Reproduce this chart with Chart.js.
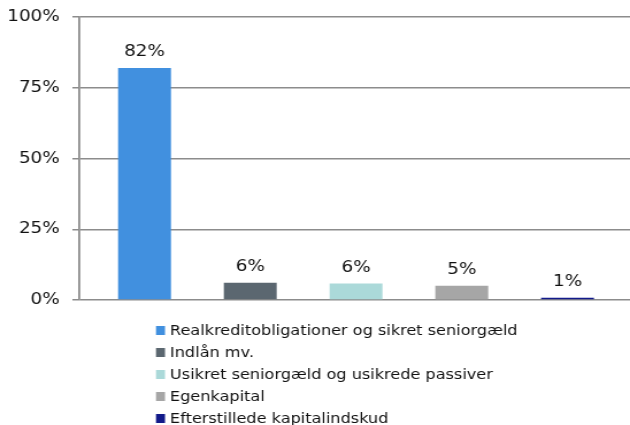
<!DOCTYPE html>
<html><head><meta charset="utf-8">
<script src="https://cdn.jsdelivr.net/npm/chart.js@4.4.1/dist/chart.umd.min.js"></script>
<style>html,body{margin:0;padding:0;background:#fff;}#wrap{width:630px;height:425px;position:relative;overflow:hidden}
#c{transform-origin:0 0;}</style>
</head><body><div id="wrap"><canvas id="c" width="548" height="425"></canvas></div>
<script>
const categories = ["Realkreditobligationer og sikret seniorgæld", "Indlån mv.", "Usikret seniorgæld og usikrede passiver", "Egenkapital", "Efterstillede kapitalindskud"];
const values = [82.0, 6.1, 5.8, 5.0, 0.8];
const yTicks = [0, 25, 50, 75, 100];
const colors = ["#4190DF", "#5B6770", "#ABD9D9", "#A6A6A6", "#121A8A"];

const FONT = "'DejaVu Sans', Verdana, sans-serif";
const TEXT = '#111';
const SX = 630 / 548;   // horizontal stretch of the whole picture, as in the reference
document.getElementById('c').style.transform = 'scaleX(' + SX + ')';

const labelPlugin = {
  id: 'labels',
  afterDatasetsDraw(chart) {
    const ctx = chart.ctx;
    const meta = chart.getDatasetMeta(0);
    ctx.save();
    ctx.font = '16px ' + FONT;
    ctx.fillStyle = TEXT;
    ctx.textAlign = 'center';
    ctx.textBaseline = 'alphabetic';
    meta.data.forEach((bar, i) => {
      ctx.fillText(Math.round(values[i]) + '%', bar.x, bar.y - 12);
    });
    ctx.restore();
  },
  afterDraw(chart) {
    const ctx = chart.ctx;
    ctx.save();
    ctx.font = '14px ' + FONT;
    ctx.textAlign = 'left';
    ctx.textBaseline = 'middle';
    const x0 = 156 / SX, y0 = 330, step = 22.2, bw = 9 / SX, bh = 9;
    categories.forEach((c, i) => {
      const y = y0 + i * step;
      ctx.fillStyle = colors[i];
      ctx.fillRect(x0, Math.round(y - bh / 2), bw, bh);
      ctx.fillStyle = TEXT;
      ctx.fillText(c, 170 / SX, y + 1);
    });
    ctx.restore();
  }
};

const chart = new Chart(document.getElementById('c'), {
  type: 'bar',
  data: {
    datasets: [{
      data: values.map((v, i) => ({ x: i, y: v })),
      backgroundColor: colors,
      barPercentage: 0.5,
      categoryPercentage: 1.0
    }]
  },
  options: {
    responsive: false,
    animation: false,
    layout: { padding: { left: 0, right: 0, top: 17, bottom: 125 } },
    plugins: { legend: { display: false }, tooltip: { enabled: false } },
    scales: {
      x: {
        type: 'linear', min: -0.6165, max: 4.591, display: false, offset: false,
        afterBuildTicks: s => { s.ticks = categories.map((c, i) => ({ value: i })); }
      },
      y: {
        min: 0, max: 100,
        afterBuildTicks: s => { s.ticks = yTicks.map(v => ({ value: v })); },
        afterFit: s => { s.width = 69; s.paddingTop = 0; s.paddingBottom = 0; },
        ticks: { callback: v => v + '%', font: { family: FONT, size: 16 }, color: TEXT, padding: 11 },
        grid: { color: '#8C8C8C', lineWidth: 1.5, tickLength: 6 },
        border: { color: '#8C8C8C', width: 1.8 }
      }
    }
  },
  plugins: [labelPlugin]
});
</script>
</body></html>
